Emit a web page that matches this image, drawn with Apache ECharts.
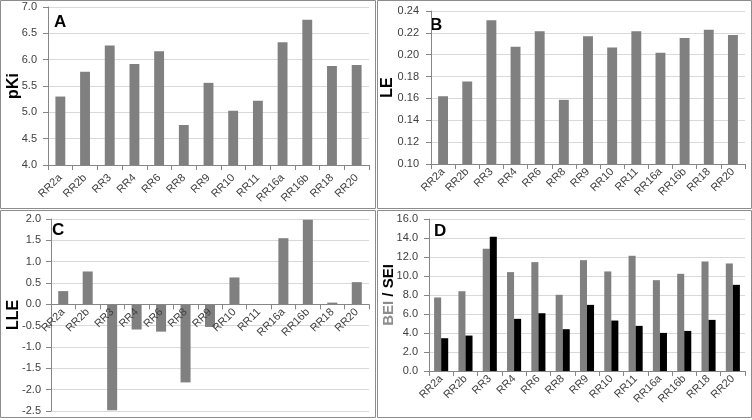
<!DOCTYPE html>
<html><head><meta charset="utf-8">
<script src="https://cdn.jsdelivr.net/npm/echarts@6/dist/echarts.min.js"></script>
<style>html,body{margin:0;padding:0;background:#fff}#c{width:752px;height:420px}</style>
</head><body><div id="c"></div>
<script>
const categories = ['RR2a','RR2b','RR3','RR4','RR6','RR8','RR9','RR10','RR11','RR16a','RR16b','RR18','RR20'];
const pKi = [5.30,5.77,6.27,5.92,6.16,4.76,5.56,5.03,5.22,6.33,6.76,5.88,5.90];
const LE = [0.162,0.1755,0.2315,0.2073,0.2214,0.1587,0.2168,0.2067,0.2214,0.2018,0.2153,0.2229,0.218];
const LLE = [0.31,0.77,-2.48,-0.59,-0.64,-1.83,-0.53,0.63,0,1.55,1.98,0.04,0.52];
const BEI = [7.74,8.40,12.87,10.41,11.46,8.02,11.67,10.48,12.13,9.56,10.23,11.53,11.32];
const SEI = [3.45,3.73,14.13,5.49,6.08,4.40,6.96,5.31,4.75,4.01,4.22,5.38,9.07];
const panelLetters = ['A','B','C','D'];

const FONT = 'Liberation Sans';
const TXT = '#404040';
const grids = [
  {left:48, top:7, width:321, height:158},
  {left:431, top:11, width:314, height:153},
  {left:51, top:219, width:318, height:192},
  {left:429, top:219, width:316, height:152}
];
const yRanges = [[4,7,0.5,1],[0.10,0.24,0.02,2],[-2.5,2.0,0.5,1],[0,16,2,1]];
const xLabelMargin = [11, 6, 6, 6];
const yLabelMargin = [11, 12, 10, 11];
function xAx(i){
  return {type:'category', gridIndex:i, data:categories,
    axisLine:{onZero:false, lineStyle:{color:'#868686'}},
    axisTick:{show:true, length:5, lineStyle:{color:'#868686'}},
    axisLabel:{rotate:45, fontSize:11, color:TXT, fontFamily:FONT, margin:xLabelMargin[i], interval:0}
  };
}
function yAx(i, name, gap, nameOpt){
  const r = yRanges[i];
  return Object.assign({type:'value', gridIndex:i, min:r[0], max:r[1], interval:r[2],
    name:name, nameLocation:'middle', nameGap:gap, nameMoveOverlap:false,
    nameTextStyle:{fontSize:16, fontWeight:'bold', color:'#000', fontFamily:FONT},
    axisLine:{show:true, onZero:false, lineStyle:{color:'#868686'}},
    axisTick:{show:true, length:5, lineStyle:{color:'#868686'}},
    splitLine:{lineStyle:{color:'#d9d9d9'}},
    axisLabel:{fontSize:11, color:TXT, fontFamily:FONT, margin:yLabelMargin[i],
      formatter: v => v.toFixed(r[3])}
  }, nameOpt||{});
}
const chart = echarts.init(document.getElementById('c'), null, {renderer:'canvas'});
const borders = [[0.5,0.5,375,208],[377.5,0.5,374,208],[0.5,210.5,375,207],[377.5,210.5,374,207]];
const letterPos = [[54,14],[430,17],[52,222],[434,223]];
const xAxes = [xAx(0), xAx(1), xAx(2), xAx(3)];
// panel C: category axis crosses the value axis at zero, drawn over the bars
const rc = yRanges[2];
xAxes[2].offset = -grids[2].height * (0 - rc[0]) / (rc[1] - rc[0]);
xAxes[2].z = 10;
chart.setOption({
  animation:false,
  backgroundColor:'#fff',
  grid: grids,
  xAxis: xAxes,
  yAxis: [
    yAx(0, 'pKi', 26),
    yAx(1, 'LE', 35),
    yAx(2, 'LLE', 29),
    yAx(3, '{g|BEI} {k|/ SEI}', 33, {
      nameTextStyle:{fontSize:15, fontWeight:'bold', fontFamily:FONT,
        rich:{g:{color:'#8c8c8c', fontSize:15, fontWeight:'bold', fontFamily:FONT},
              k:{color:'#000', fontSize:15, fontWeight:'bold', fontFamily:FONT}}}
    })
  ],
  series: [
    {type:'bar', xAxisIndex:0, yAxisIndex:0, data:pKi, barCategoryGap:'60%', itemStyle:{color:'#808080'}},
    {type:'bar', xAxisIndex:1, yAxisIndex:1, data:LE, barCategoryGap:'59%', itemStyle:{color:'#808080'}},
    {type:'bar', xAxisIndex:2, yAxisIndex:2, data:LLE, barCategoryGap:'59%', itemStyle:{color:'#808080'}},
    {type:'bar', xAxisIndex:3, yAxisIndex:3, data:BEI, barGap:'0%', barCategoryGap:'42%', itemStyle:{color:'#808080'}},
    {type:'bar', xAxisIndex:3, yAxisIndex:3, data:SEI, barGap:'0%', barCategoryGap:'42%', itemStyle:{color:'#000'}}
  ],
  graphic: borders.map(b => ({type:'rect', silent:true, z:-1,
      shape:{x:b[0], y:b[1], width:b[2], height:b[3]},
      style:{fill:'none', stroke:'#8c8c8c', lineWidth:1}}))
    .concat(panelLetters.map((t,i) => ({type:'text', left:letterPos[i][0], top:letterPos[i][1],
      style:{text:t, font:'bold 17px "Liberation Sans"', fill:'#000'}})))
});
</script></body></html>
